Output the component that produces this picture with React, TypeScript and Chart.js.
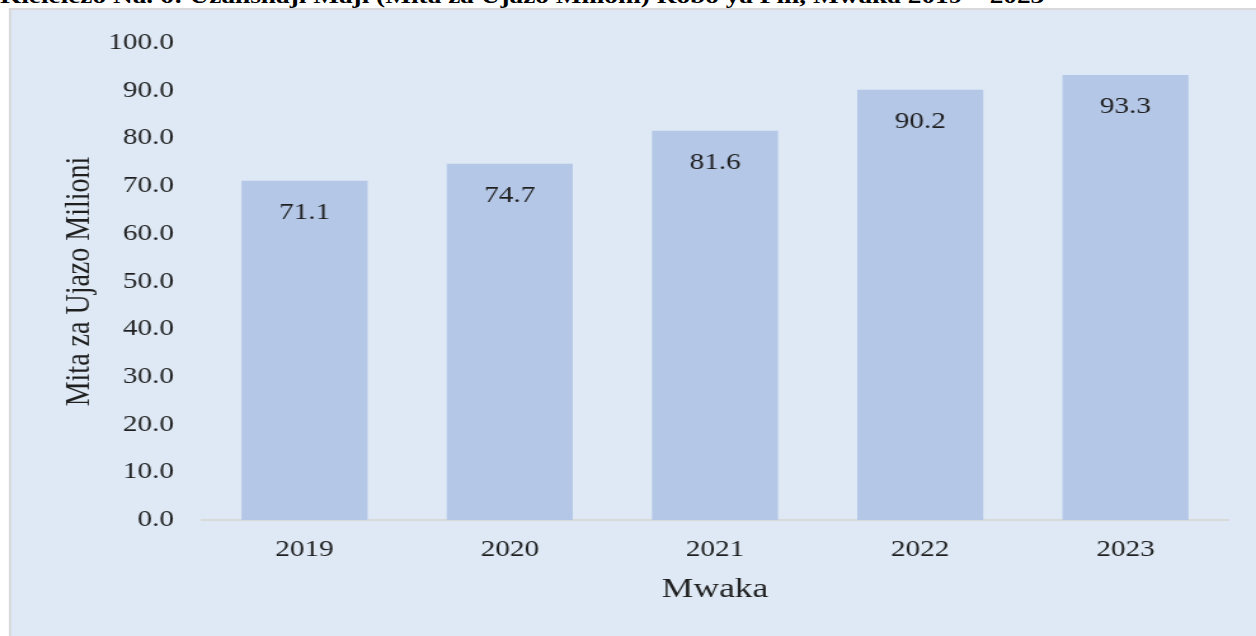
import React, { useEffect, useRef } from "react";
import { Chart, registerables } from "chart.js";

Chart.register(...registerables);

// ---- data ----
const years: string[] = ["2019", "2020", "2021", "2022", "2023"];
const values: number[] = [71.1, 74.7, 81.6, 90.2, 93.3];
const yMin = 0;
const yMax = 100;
const yStep = 10;

const figureTitle =
  "Kielelezo Na. 6: Uzalishaji Maji (Mita za Ujazo Milioni) Robo ya Pili, Mwaka 2019 – 2023";
const xTitle = "Mwaka";
const yTitle = "Mita za Ujazo Milioni";

// ---- layout ----
const STRETCH = 1.27;
const W = Math.round(1256 / STRETCH);
const H = 636;
const FONT = "'Liberation Serif', 'Times New Roman', serif";
const TEXT = "#1f1f1f";

const insideLabels = {
  id: "insideLabels",
  afterDatasetsDraw(chart: any) {
    const ctx = chart.ctx;
    const meta = chart.getDatasetMeta(0);
    ctx.save();
    ctx.font = `23px ${FONT}`;
    ctx.fillStyle = TEXT;
    ctx.textAlign = "center";
    ctx.textBaseline = "middle";
    meta.data.forEach((bar: any, i: number) => {
      ctx.fillText(values[i].toFixed(1), bar.x, bar.y + 32);
    });
    ctx.restore();
  },
};

export default function App() {
  const ref = useRef<HTMLCanvasElement | null>(null);

  useEffect(() => {
    if (!ref.current) return;
    const chart = new Chart(ref.current, {
      type: "bar",
      data: {
        labels: years,
        datasets: [
          {
            data: values,
            backgroundColor: "#b4c7e7",
            borderWidth: 0,
            categoryPercentage: 1,
            barPercentage: 0.614,
          },
        ],
      },
      options: {
        responsive: false,
        animation: false,
        devicePixelRatio: 1,
        layout: { padding: { left: 0, right: 22, top: 43, bottom: 0 } },
        plugins: {
          legend: { display: false },
          tooltip: { enabled: false },
          title: { display: false },
        },
        scales: {
          x: {
            grid: { display: false, drawTicks: false },
            border: { display: true, color: "#d9d9d9", width: 2 },
            ticks: {
              font: { family: FONT, size: 23 },
              color: TEXT,
              padding: 16,
            },
            title: {
              display: true,
              text: xTitle,
              font: { family: FONT, size: 28 },
              color: TEXT,
              padding: { top: 0, bottom: 30 },
            },
            afterFit: (s: any) => {
              s.height = 116;
            },
          },
          y: {
            min: yMin,
            max: yMax,
            grid: { display: false, drawTicks: false },
            border: { display: false },
            ticks: {
              stepSize: yStep,
              font: { family: FONT, size: 23 },
              color: TEXT,
              padding: 22,
              callback: (v: any) => Number(v).toFixed(1),
            },
            title: {
              display: true,
              text: yTitle,
              font: { family: FONT, size: 28 },
              color: TEXT,
              padding: { top: 46, bottom: 0 },
            },
            afterFit: (s: any) => {
              s.width = 159;
            },
          },
        },
      },
      plugins: [insideLabels],
    } as any);
    return () => chart.destroy();
  }, []);

  return (
    <div
      style={{
        position: "fixed",
        left: 0,
        top: 0,
        width: W,
        height: H,
        overflow: "hidden",
        transform: `scaleX(${STRETCH})`,
        transformOrigin: "0 0",
        background: "#ffffff",
      }}
    >
      <div
        style={{
          position: "absolute",
          left: 0,
          top: -15,
          whiteSpace: "nowrap",
          font: `bold 21.5px ${FONT}`,
          lineHeight: "22px",
          color: "#000",
        }}
      >
        {figureTitle}
      </div>
      <div
        style={{
          position: "absolute",
          left: 7,
          top: 8,
          width: W - 7,
          height: H - 8,
          boxSizing: "border-box",
          background: "#dee9f5",
          borderLeft: "2px solid #d9d9d9",
          borderTop: "2px solid #d9d9d9",
        }}
      />
      <canvas
        ref={ref}
        width={W}
        height={H}
        style={{ position: "absolute", left: 0, top: 0, width: W, height: H }}
      />
    </div>
  );
}
